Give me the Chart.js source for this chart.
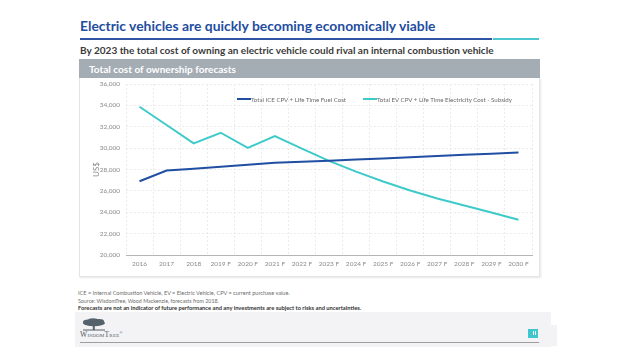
<!DOCTYPE html>
<html>
<head>
<meta charset="utf-8">
<script src="https://cdn.jsdelivr.net/npm/chart.js@4.4.0/dist/chart.umd.min.js"></script>
<style>
  html, body { margin: 0; padding: 0; background: #fff; width: 624px; height: 351px; overflow: hidden; font-family: Lato, "Open Sans", sans-serif; }
  .t { position: absolute; white-space: nowrap; line-height: 1; transform: translateY(-50%); }
  .box { position: absolute; }
  #title { left: 80px; top: 26px; color: #1f4e9f; font-weight: 700; font-size: 16px; }
  #subtitle { left: 80px; top: 50px; color: #3a3a3a; font-weight: 700; font-size: 10px; }
  #bar { left: 79px; top: 59px; width: 461px; height: 19px; background: #a4acb4; }
  #barText { left: 89px; top: 68.5px; color: #fff; font-weight: 700; font-size: 12px; }
  #panel { left: 79px; top: 78px; width: 459px; height: 198px; border: 1px solid #e4e4e4; border-top: none; box-shadow: 1px 1px 2px rgba(0,0,0,0.10); background: #fff; }
  #chart { position: absolute; left: 80px; top: 78px; }
  .leg { position: absolute; top: 99.3px; height: 2px; width: 14px; transform: translateY(-50%); }
  .legText { color: #6a6a6a; font-size: 7px; top: 99.5px; }
  .note { left: 78px; color: #6d6d6d; font-size: 6px; }
  #foot { left: 75px; top: 312px; width: 476px; height: 35px; background: #f3f3f5; }
  #foot2 { left: 540px; top: 325px; width: 17px; height: 21px; background: #f3f3f5; }
  #footLine { left: 80px; top: 342px; width: 459px; height: 1px; background: #9d9d9d; }
  #tag { left: 528px; top: 329px; width: 10px; height: 9px; background: #3fc7cf; }
  #logoText { left: 80px; top: 335px; color: #4f5a63; font-family: "Liberation Serif", serif; font-variant: small-caps; font-size: 8px; letter-spacing: 0.2px; }
</style>
</head>
<body>
<div class="t" id="title" data-w="356">Electric vehicles are quickly becoming economically viable</div>
<div class="box" style="left:80px;top:38px;width:412px;height:2px;background:#2f55a4"></div>
<div class="box" style="left:493px;top:38px;width:46px;height:2px;background:#4cc6cf"></div>
<div class="t" id="subtitle" data-w="414">By 2023 the total cost of owning an electric vehicle could rival an internal combustion vehicle</div>
<div class="box" id="bar"></div>
<div class="t" id="barText" data-w="147">Total cost of ownership forecasts</div>
<div class="box" id="panel"></div>
<canvas id="chart" width="460" height="198"></canvas>
<div class="leg" style="left:237px;background:#1f4ea3"></div>
<div class="t legText" id="leg1" style="left:251px" data-w="95"></div>
<div class="leg" style="left:363px;background:#3fcaca"></div>
<div class="t legText" id="leg2" style="left:377px" data-w="135"></div>
<div class="t note" style="top:294px" data-w="212">ICE = Internal Combustion Vehicle, EV = Electric Vehicle, CPV = current purchase value.</div>
<div class="t note" style="top:301.5px" data-w="141">Source: WisdomTree, Wood Mackenzie, forecasts from 2018.</div>
<div class="t note" style="top:307.5px;color:#333;font-weight:700" data-w="283">Forecasts are not an indicator of future performance and any investments are subject to risks and uncertainties.</div>
<div class="box" id="foot"></div>
<div class="box" id="foot2"></div>
<svg class="box" style="left:81px;top:318px" width="26" height="15" viewBox="0 0 26 15">
  <g fill="#55616b">
    <ellipse cx="13" cy="5" rx="11" ry="3.2"/>
    <ellipse cx="7" cy="4" rx="5" ry="2.6"/>
    <ellipse cx="18" cy="3.5" rx="5" ry="2.4"/>
    <ellipse cx="12" cy="2.4" rx="5" ry="2.2"/>
    <rect x="11.8" y="6" width="2" height="6"/>
    <rect x="2" y="11.5" width="22" height="1"/>
  </g>
</svg>
<div class="t" id="logoText" data-w="46">WisdomTree<span style="font-size:4px;vertical-align:top">®</span></div>
<div class="box" id="footLine"></div>
<div class="box" id="tag"><div style="position:absolute;left:5px;top:2px;width:1px;height:4px;background:#fff"></div><div style="position:absolute;left:7px;top:2px;width:1px;height:4px;background:#fff"></div></div>

<script>
// categories and series
const categories = ['2016', '2017', '2018', '2019 F', '2020 F', '2021 F', '2022 F', '2023 F',
  '2024 F', '2025 F', '2026 F', '2027 F', '2028 F', '2029 F', '2030 F'];
const iceCost = [26900, 27900, 28070, 28260, 28450, 28630, 28720, 28820,
  28930, 29040, 29150, 29260, 29370, 29480, 29600];
const evCost = [33870, 32160, 30450, 31440, 30020, 31130, 29960, 28800,
  27800, 26880, 26030, 25290, 24630, 23980, 23300];
const seriesNames = ['Total ICE CPV + Life Time Fuel Cost', 'Total EV CPV + Life Time Electricity Cost - Subsidy'];
const yMin = 20000, yMax = 36000, yStep = 2000;

document.getElementById('leg1').textContent = seriesNames[0];
document.getElementById('leg2').textContent = seriesNames[1];

// shrink/grow texts so they take the width seen in the picture
document.querySelectorAll('[data-w]').forEach(el => {
  const target = +el.dataset.w;
  const size = parseFloat(getComputedStyle(el).fontSize);
  const w = el.getBoundingClientRect().width;
  if (w > 0) el.style.fontSize = (size * target / w).toFixed(2) + 'px';
});

const tickFont = { family: 'Lato', size: 6.5 };
const tickColor = '#8a8a8a';

new Chart(document.getElementById('chart'), {
  type: 'line',
  data: {
    labels: categories,
    datasets: [
      { label: seriesNames[0], data: iceCost, borderColor: '#1f4ea3', borderWidth: 2, pointRadius: 0, tension: 0, fill: false },
      { label: seriesNames[1], data: evCost, borderColor: '#3fcaca', borderWidth: 2, pointRadius: 0, tension: 0, fill: false }
    ]
  },
  options: {
    responsive: false,
    animation: false,
    devicePixelRatio: 1,
    layout: { padding: { left: 0, right: 8, top: 6, bottom: 0 } },
    plugins: { legend: { display: false }, tooltip: { enabled: false } },
    scales: {
      x: {
        offset: true,
        grid: { offset: true, color: '#ebebeb', drawTicks: false },
        border: { color: '#b5b5b5', dash: [2, 2] },
        ticks: { padding: 5, color: tickColor, font: tickFont, maxRotation: 0, autoSkip: false },
        afterFit: s => { s.height = 21; s.paddingLeft = 0; s.paddingRight = 0; }
      },
      y: {
        min: yMin, max: yMax,
        ticks: { stepSize: yStep, padding: 6, color: tickColor, font: tickFont },
        grid: { color: '#ebebeb', drawTicks: false },
        border: { display: false, dash: [2, 2] },
        title: { display: true, text: 'US$', color: tickColor, font: { family: 'Lato', size: 8 }, padding: { top: 12, bottom: 0 } },
        afterFit: s => { s.width = 46; s.paddingTop = 0; s.paddingBottom = 0; }
      }
    }
  }
});
</script>
</body>
</html>
